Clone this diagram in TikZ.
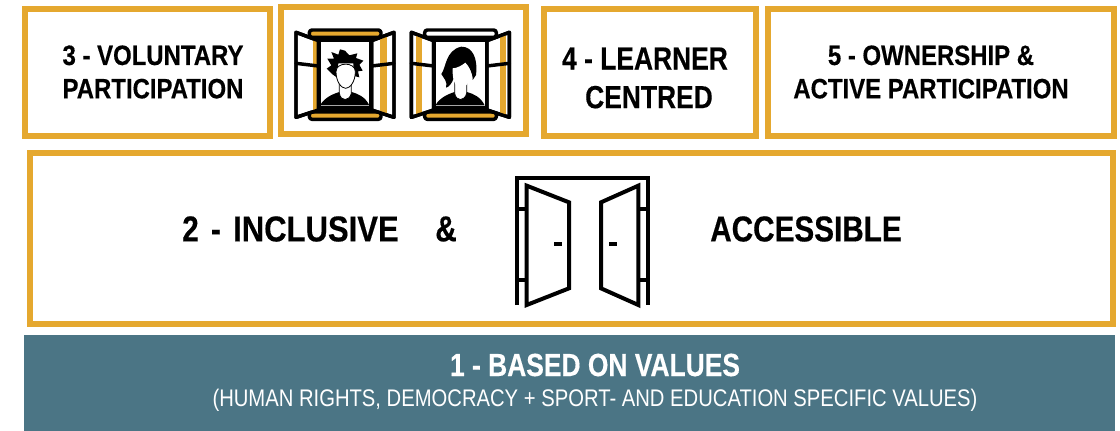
\documentclass[tikz,border=0pt]{standalone}
\usepackage{fontspec}
\setmainfont{Liberation Sans}
\newfontfamily\boldwide[FakeStretch=0.855,FakeBold=0.35]{Liberation Sans Bold}
\newfontfamily\narrowbold[FakeStretch=0.825,FakeBold=0.35]{Liberation Sans Bold}
\newfontfamily\inclbold[FakeStretch=0.862,FakeBold=0.35]{Liberation Sans Bold}
\newfontfamily\narrowreg[FakeStretch=0.843]{Liberation Sans}
\definecolor{gold}{HTML}{E5A82F}
\definecolor{teal}{HTML}{4B7585}
\tikzset{
  goldbox/.style={draw=gold,line width=4.5pt,fill=white,rectangle,inner sep=0pt,anchor=north west},
  boxlabel/.style={align=center,text=black,inner sep=0pt},
  ink/.style={draw=black,line width=2.6pt,line join=round,line cap=round},
  thinink/.style={draw=black,line width=3pt,line join=miter},
}
\newcommand{\sizeA}{\fontsize{21}{25}\boldwide}
\newcommand{\sizeC}{\fontsize{24}{29}\narrowbold}
\newcommand{\sizeB}{\fontsize{27}{31}\narrowbold}
\newcommand{\sizeD}{\fontsize{24}{29}\narrowbold}
\newcommand{\windowframe}[6]{%
 % #1 top bar fill, #2 bottom bar fill, #3 left strip x0, #4 left width, #5 right strip x0, #6 right width
 \path[ink,fill=#1,rounded corners=2pt] (118,90) rectangle (333,112);
 \path[ink,fill=#2,rounded corners=2pt] (118,336) rectangle (333,358);
 \path[ink,fill=white] (78,97) -- (145,122) -- (145,330) -- (78,352) -- cycle;
 \path[ink,fill=white] (372,97) -- (305,122) -- (305,330) -- (372,352) -- cycle;
 \begin{scope}
  \clip (78,97) -- (145,122) -- (145,330) -- (78,352) -- cycle;
  \fill[gold] (#3,90) rectangle (#3+#4,360);
 \end{scope}
 \begin{scope}
  \clip (372,97) -- (305,122) -- (305,330) -- (372,352) -- cycle;
  \fill[gold] (#5,90) rectangle (#5+#6,360);
 \end{scope}
 \path[ink] (78,97) -- (145,122) -- (145,330) -- (78,352) -- cycle;
 \path[ink] (372,97) -- (305,122) -- (305,330) -- (372,352) -- cycle;
 \path[ink] (78,190) -- (145,198);
 \path[ink] (372,190) -- (305,198);
 \path[ink,fill=white] (147,120) rectangle (303,330);
}
\newcommand{\bust}{%
 \fill[black] (150,316) .. controls (165,290) and (195,280) .. (208,276) -- (245,276) .. controls (265,282) and (285,290) .. (298,316) -- cycle;
 \fill[white] (208,245) -- (208,280) .. controls (212,305) and (238,305) .. (244,280) -- (244,245) -- cycle;
 \draw[black,line width=0.6pt] (208,245) -- (208,280) .. controls (212,305) and (238,305) .. (244,280) -- (244,245);
 \draw[black,line width=1.6pt] (152,322) -- (298,322);
}
\begin{document}
\begin{tikzpicture}[x=0.75pt,y=-0.75pt]
\useasboundingbox (0,0) rectangle (1120,431);
\fill[white] (0,0) rectangle (1120,431);

% boxes
\node[goldbox,minimum width=184pt,minimum height=95pt] (b3) at (22,6) {};
\node[goldbox,minimum width=183.5pt,minimum height=95pt] (bw) at (278,4) {};
\node[goldbox,minimum width=159pt,minimum height=95pt] (b4) at (541,6) {};
\node[goldbox,minimum width=259.5pt,minimum height=95pt] (b5) at (765,6) {};
\node[goldbox,minimum width=812pt,minimum height=128pt] (b2) at (27,150) {};
\node[fill=teal,inner sep=0pt,anchor=north west,minimum width=818pt,minimum height=72pt] (b1) at (24,335) {};

% labels
\node[boxlabel,font=\sizeA] (t3) at (153,72) {3 - VOLUNTARY\\PARTICIPATION};
\node[boxlabel,font=\sizeC] (t4) at (645,78) {4 - LEARNER\\\hspace*{6pt}CENTRED};
\node[boxlabel,font=\sizeA] (t5) at (931,72) {5 - OWNERSHIP \&\\ACTIVE PARTICIPATION};
\node[boxlabel,font=\sizeB,anchor=west] (t2) at (182,229) {2\hspace{3pt} -\hspace{3pt} {\inclbold INCLUSIVE}};
\node[boxlabel,font=\sizeB,anchor=west] (t2b) at (435,229) {\&};
\node[boxlabel,font=\sizeB,anchor=west] (t2c) at (710,229) {ACCESSIBLE};
\node[boxlabel,text=white,font=\sizeD] (t1) at (595,365) {1 - BASED ON VALUES};
\node[boxlabel,text=white,font=\fontsize{18}{22}\narrowreg] (t1b) at (595,400) {(HUMAN RIGHTS, DEMOCRACY + SPORT- AND EDUCATION SPECIFIC VALUES)};

% window 1
\begin{scope}[shift={(270,0)},x=0.25pt,y=-0.25pt]
 \windowframe{gold}{gold}{128}{12}{330}{20}
 \bust
 \fill[black] (225,152) -- (238,166) -- (262,160) -- (258,174) -- (280,182) -- (268,194) -- (278,212) -- (264,214) -- (268,232) -- (252,228) -- (250,190) -- (205,190) -- (200,232) -- (186,222) -- (170,206) -- (184,196) -- (172,176) -- (192,176) -- (184,156) -- (205,164) -- (210,148) -- cycle;
 \draw[black,fill=white,line width=0.6pt] (198,215) .. controls (198,185) and (256,185) .. (256,215) .. controls (256,245) and (240,265) .. (227,265) .. controls (214,265) and (198,245) .. (198,215) -- cycle;
\end{scope}

% window 2
\begin{scope}[shift={(385.33,0)},x=0.25pt,y=-0.25pt]
 \windowframe{white}{gold}{92}{17}{344}{17}
 \bust
 \fill[black] (228,140) .. controls (262,140) and (278,175) .. (272,225) -- (262,240) .. controls (262,215) and (250,200) .. (240,190) .. controls (225,200) and (215,215) .. (205,235) .. controls (200,250) and (190,262) .. (182,263) .. controls (188,245) and (175,235) .. (168,222) .. controls (182,205) and (180,150) .. (228,140) -- cycle;
 \fill[white] (202,205) .. controls (215,205) and (232,195) .. (240,188) .. controls (252,200) and (258,215) .. (256,225) .. controls (254,245) and (240,265) .. (227,265) .. controls (214,265) and (200,245) .. (202,205) -- cycle;
\end{scope}

% door
\begin{scope}[shift={(500,165)},x=0.25pt,y=-0.25pt]
 \path[thinink] (52,420) -- (52,38) -- (443,38) -- (443,420);
 \path[thinink] (52,133) -- (80,133);
 \path[thinink] (52,345) -- (80,345);
 \path[thinink] (443,133) -- (415,133);
 \path[thinink] (443,345) -- (415,345);
 \path[thinink,fill=white] (80,62) -- (207,112) -- (207,370) -- (80,420) -- cycle;
 \path[thinink,fill=white] (415,62) -- (303,112) -- (303,370) -- (415,420) -- cycle;
 \path[thinink] (163,238) -- (187,238);
 \path[thinink] (327,238) -- (350,238);
\end{scope}
\end{tikzpicture}
\end{document}
